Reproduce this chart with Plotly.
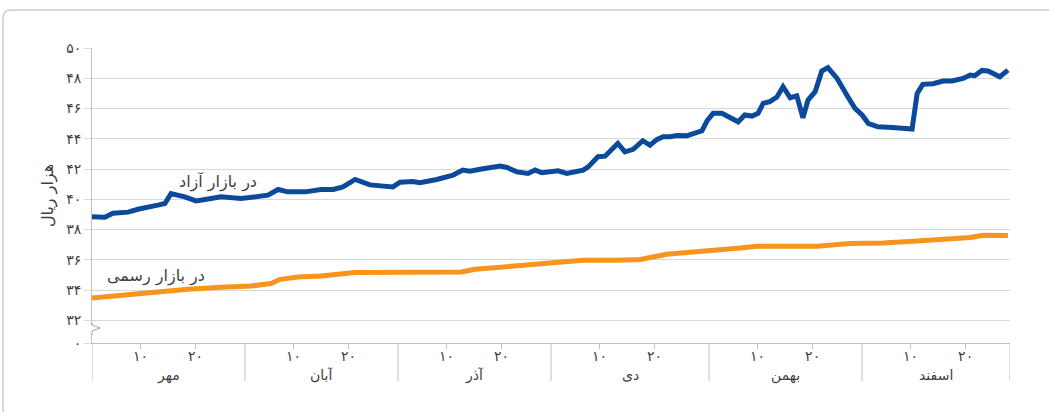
import plotly.graph_objects as go

# ---- data (day index from start of Mehr, value in thousand rials) ----
free_days = [0, 2.5, 4.1, 7.1, 9.0, 11.6, 12.9, 14.3, 15.5, 18.2, 20.4, 22.2, 25.3, 29.2, 32.0, 34.5,
             36.5, 38.4, 41.8, 44.9, 47.3, 49.2, 51.6, 54.5, 59.0, 60.4, 62.9, 64.3, 67.6, 69.6,
             70.8, 72.7, 74.1, 76.1, 80.0, 81.4, 83.3, 85.5, 86.9, 88.2, 89.8, 91.4, 93.1, 94.3,
             96.3, 97.3, 99.2, 100.6, 103.1, 104.5, 106.1, 108.0, 109.4, 110.8, 112.0, 113.3,
             114.7, 116.7, 118.2, 119.6, 120.6, 121.8, 123.5, 124.7, 126.7, 128.0, 129.4, 130.6,
             131.6, 132.9, 134.3, 135.5, 136.9, 138.2, 139.4, 140.4, 141.8, 143.1, 144.3, 146.1,
             147.1, 148.2, 149.6, 151.0, 152.2, 154.1, 156.9, 158.8, 160.8, 161.8, 162.9, 164.9,
             166.9, 168.6, 170.8, 172.2, 173.1, 174.5, 175.7, 178.0, 179.6]
free_vals = [38.84, 38.82, 39.08, 39.15, 39.34, 39.48, 39.61, 39.72, 40.38, 40.16, 39.89, 39.99, 40.16,
             40.05, 40.21, 40.27, 40.65, 40.49, 40.49, 40.65, 40.65, 40.82, 41.31, 40.95, 40.82,
             41.13, 41.18, 41.09, 41.31, 41.48, 41.60, 41.93, 41.86, 41.99, 42.19, 42.10, 41.81,
             41.71, 41.93, 41.75, 41.81, 41.88, 41.71, 41.81, 41.93, 42.14, 42.81, 42.85, 43.69,
             43.14, 43.30, 43.87, 43.58, 43.96, 44.13, 44.13, 44.22, 44.20, 44.39, 44.53, 45.19,
             45.68, 45.68, 45.50, 45.12, 45.57, 45.50, 45.68, 46.34, 46.45, 46.76, 47.44, 46.71,
             46.84, 45.39, 46.56, 47.11, 48.48, 48.70, 47.99, 47.33, 46.78, 46.01, 45.57, 45.02,
             44.79, 44.75, 44.69, 44.64, 47.00, 47.60, 47.64, 47.82, 47.82, 47.99, 48.21, 48.17,
             48.52, 48.48, 48.10, 48.54]

official_days = [0, 5.7, 12.4, 18.8, 25.3, 31.2, 35.1, 36.9, 40.4, 44.9, 51.6, 64.5, 72.4, 75.1, 81.0,
                 87.5, 90.8, 96.3, 102.9, 107.5, 112.7, 121.2, 127.1, 130.4, 142.2, 148.6, 155.1,
                 161.8, 168.2, 172.2, 174.7, 179.6]
official_vals = [33.47, 33.65, 33.92, 34.05, 34.18, 34.27, 34.43, 34.71, 34.86, 34.93, 35.16, 35.16,
                 35.20, 35.37, 35.53, 35.69, 35.86, 35.97, 35.97, 36.02, 36.37, 36.57, 36.78, 36.90,
                 36.90, 37.07, 37.11, 37.25, 37.36, 37.47, 37.62, 37.60]

months = ["مهر", "آبان", "آذر", "دی", "بهمن", "اسفند"]
month_bounds = [0, 30, 60, 90, 121, 151, 180]
day_tick_text = ["۱۰", "۲۰"]

y_tick_vals = [30.5, 32, 34, 36, 38, 40, 42, 44, 46, 48, 50]
y_tick_text = ["۰", "۳۲", "۳۴", "۳۶", "۳۸", "۴۰", "۴۲", "۴۴", "۴۶", "۴۸", "۵۰"]

free_label = "در بازار آزاد"
official_label = "در بازار رسمی"
y_title = "هزار ریال"

# ---- layout geometry (pixels) ----
W, H = 1049, 412
L, R, T, B = 92, 1010, 48, 343
FONT = "DejaVu Sans"
GRID = "#d9d9d9"
AXIS = "#bfbfbf"
TXT = "#404040"


def px(x):
    return (x - L) / (R - L)


def py(y):
    return (B - y) / (B - T)


fig = go.Figure()
fig.add_trace(go.Scatter(x=free_days, y=free_vals, mode="lines",
                         line=dict(color="#0b4a9b", width=5), name=free_label,
                         hoverinfo="skip"))
fig.add_trace(go.Scatter(x=official_days, y=official_vals, mode="lines",
                         line=dict(color="#f7941d", width=5), name=official_label,
                         hoverinfo="skip"))

tick_vals, tick_text = [], []
for i in range(len(months)):
    tick_vals += [month_bounds[i] + 9.5, month_bounds[i] + 20.3]
    tick_text += day_tick_text

shapes = []
for b in month_bounds:
    shapes.append(dict(type="line", xref="x", yref="paper", x0=b, x1=b,
                       y0=0, y1=py(381), line=dict(color=AXIS, width=1)))
# axis break mark
shapes.append(dict(type="rect", xref="paper", yref="paper", x0=px(90), x1=px(94),
                   y0=py(334), y1=py(325), fillcolor="white", line=dict(width=0)))
shapes.append(dict(type="path", xref="paper", yref="paper",
                   path=f"M {px(92)} {py(323)} L {px(92)} {py(325)} L {px(100)} {py(328)} "
                        f"L {px(92)} {py(331)} L {px(92)} {py(335)}",
                   line=dict(color="#a6a6a6", width=1)))
# outer frame
shapes.append(dict(type="path", xref="paper", yref="paper",
                   path=f"M {px(3)} {py(420)} L {px(3)} {py(18)} Q {px(3)} {py(10)} {px(11)} {py(10)} "
                        f"L {px(1060)} {py(10)}",
                   line=dict(color="#b0b0b0", width=1)))

annotations = []
for i, m in enumerate(months):
    annotations.append(dict(x=(month_bounds[i] + month_bounds[i + 1]) / 2, xref="x",
                            y=py(375), yref="paper", text=m, showarrow=False,
                            xanchor="center", yanchor="middle",
                            font=dict(family=FONT, size=14, color=TXT)))
annotations.append(dict(x=px(218), xref="paper", y=py(182), yref="paper", text=free_label,
                        showarrow=False, xanchor="center", yanchor="middle",
                        font=dict(family=FONT, size=16, color=TXT)))
annotations.append(dict(x=px(156), xref="paper", y=py(276), yref="paper", text=official_label,
                        showarrow=False, xanchor="center", yanchor="middle",
                        font=dict(family=FONT, size=16, color=TXT)))

fig.update_layout(
    width=W, height=H,
    margin=dict(l=L, r=W - R, t=T, b=H - B),
    paper_bgcolor="white", plot_bgcolor="white",
    showlegend=False,
    font=dict(family=FONT, size=13, color=TXT),
    shapes=shapes, annotations=annotations,
    xaxis=dict(range=[0, 180], showgrid=False, zeroline=False,
               tickmode="array", tickvals=tick_vals, ticktext=tick_text,
               ticks="outside", ticklen=5, tickcolor=AXIS,
               ticklabelstandoff=-5,
               showline=True, linecolor=AXIS, linewidth=1,
               tickfont=dict(family=FONT, size=14, color=TXT)),
    yaxis=dict(range=[30.5, 50], showgrid=True, gridcolor=GRID, gridwidth=1.2,
               zeroline=False, tickmode="array", tickvals=y_tick_vals, ticktext=y_tick_text,
               ticks="outside", ticklen=7, tickcolor=GRID,
               showline=True, linecolor=AXIS, linewidth=1,
               tickfont=dict(family=FONT, size=14, color=TXT),
               title=dict(text=y_title, font=dict(family=FONT, size=16, color=TXT), standoff=8)),
)

fig.write_html("out.html", config={"displayModeBar": False},
               post_script="document.body.style.margin='0';")
